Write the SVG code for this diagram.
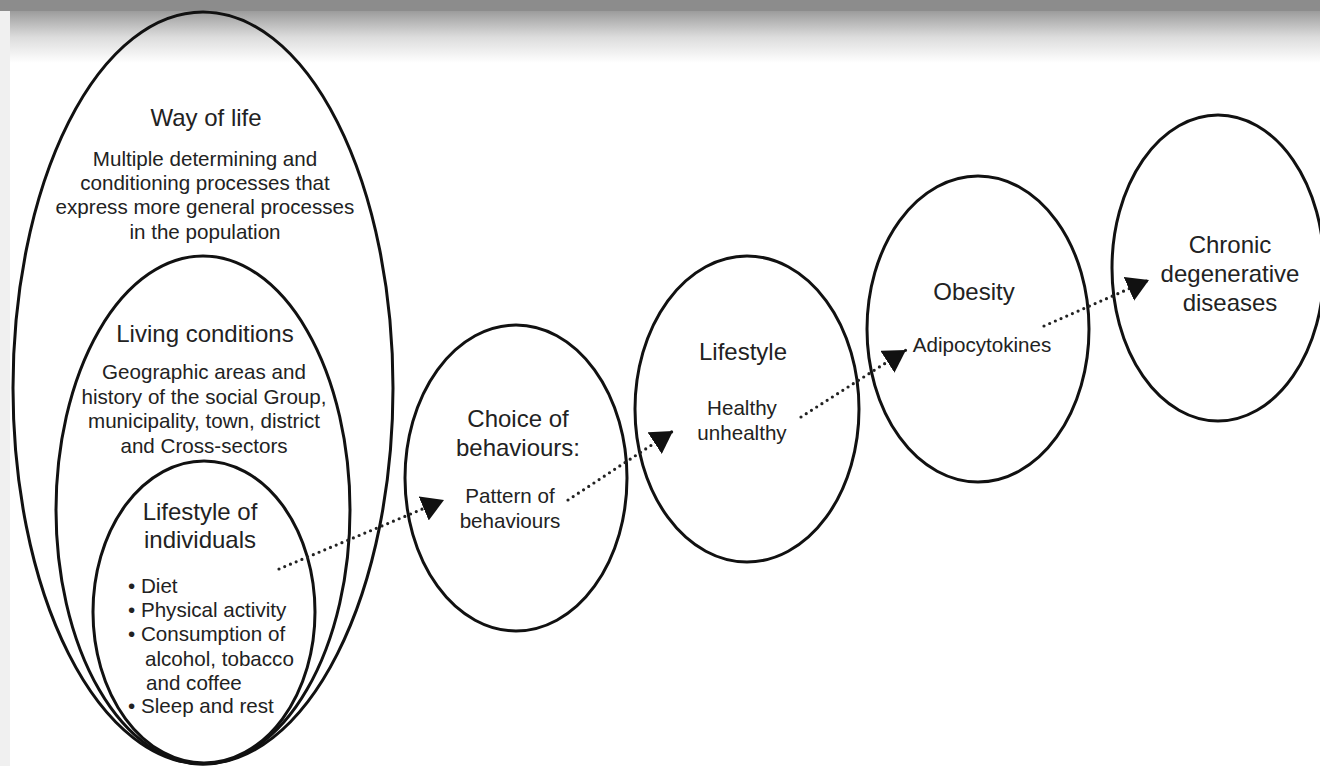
<svg xmlns="http://www.w3.org/2000/svg" width="1320" height="766" viewBox="0 0 1320 766">
<style>
.node{fill:none;stroke:#111;stroke-width:3}
.t{font-family:"Liberation Sans",Arial,Helvetica,sans-serif;fill:#222;text-anchor:middle}
.h{font-size:24px}
.b{font-size:20.6px}
.l{font-family:"Liberation Sans",Arial,Helvetica,sans-serif;fill:#222;font-size:20.6px}
.c{fill:none;stroke:#222;stroke-width:3.2;stroke-linecap:round;stroke-dasharray:0 6.2}
</style>
<defs>
<linearGradient id="top" x1="0" y1="0" x2="0" y2="1">
<stop offset="0" stop-color="#9c9c9c"/>
<stop offset="0.5" stop-color="#dcdcdc"/>
<stop offset="1" stop-color="#ffffff"/>
</linearGradient>
<marker id="arr" viewBox="0 0 22 26" refX="22" refY="13" markerWidth="22" markerHeight="26" markerUnits="userSpaceOnUse" orient="auto">
<path d="M0,0 L22,13 L0,26 Z" fill="#111"/>
</marker>
</defs>
<rect width="1320" height="766" fill="#ffffff"/>
<rect x="0" y="11" width="1320" height="52" fill="url(#top)"/>
<rect x="0" y="0" width="1320" height="11" fill="#8c8c8c"/>
<rect x="0" y="11" width="10" height="755" fill="#f0f0f0"/>

<g id="way-of-life">
<ellipse class="node" cx="203" cy="388" rx="190" ry="376"/>
<text class="t h" x="206" y="126">Way of life</text>
<text class="t b" x="205" y="166">Multiple determining and</text>
<text class="t b" x="205" y="190">conditioning processes that</text>
<text class="t b" x="205" y="214">express more general processes</text>
<text class="t b" x="205" y="239">in the population</text>
</g>

<g id="living-conditions">
<ellipse class="node" cx="203" cy="510" rx="147" ry="254"/>
<text class="t h" x="205" y="342">Living conditions</text>
<text class="t b" x="204" y="379">Geographic areas and</text>
<text class="t b" x="204" y="404">history of the social Group,</text>
<text class="t b" x="204" y="428">municipality, town, district</text>
<text class="t b" x="204" y="453">and Cross-sectors</text>
</g>

<g id="lifestyle-of-individuals">
<ellipse class="node" cx="204" cy="612" rx="111" ry="151"/>
<text class="t h" x="200" y="520">Lifestyle of</text>
<text class="t h" x="200" y="548">individuals</text>
<text class="l" x="128" y="593">• Diet</text>
<text class="l" x="128" y="617">• Physical activity</text>
<text class="l" x="128" y="641">• Consumption of</text>
<text class="l" x="145" y="666">alcohol, tobacco</text>
<text class="l" x="146" y="690">and coffee</text>
<text class="l" x="128" y="713">• Sleep and rest</text>
</g>

<g id="choice-of-behaviours">
<ellipse class="node" cx="516" cy="478" rx="111" ry="153"/>
<text class="t h" x="518" y="427">Choice of</text>
<text class="t h" x="518" y="456">behaviours:</text>
<text class="t b" x="510" y="503">Pattern of</text>
<text class="t b" x="510" y="528">behaviours</text>
</g>

<g id="lifestyle">
<ellipse class="node" cx="747" cy="409" rx="112" ry="153"/>
<text class="t h" x="743" y="360">Lifestyle</text>
<text class="t b" x="742" y="415">Healthy</text>
<text class="t b" x="742" y="440">unhealthy</text>
</g>

<g id="obesity">
<ellipse class="node" cx="978" cy="329" rx="111" ry="153"/>
<text class="t h" x="974" y="300">Obesity</text>
<text class="t b" x="982" y="352">Adipocytokines</text>
</g>

<g id="chronic-degenerative-diseases">
<ellipse class="node" cx="1218" cy="268" rx="106" ry="153"/>
<text class="t h" x="1230" y="253">Chronic</text>
<text class="t h" x="1230" y="282">degenerative</text>
<text class="t h" x="1230" y="311">diseases</text>
</g>

<g id="connectors">
<line class="c" x1="279" y1="569" x2="444" y2="500" marker-end="url(#arr)"/>
<line class="c" x1="568" y1="500" x2="673" y2="431" marker-end="url(#arr)"/>
<line class="c" x1="801" y1="417" x2="906" y2="350" marker-end="url(#arr)"/>
<line class="c" x1="1044" y1="326" x2="1149" y2="280" marker-end="url(#arr)"/>
</g>
</svg>
